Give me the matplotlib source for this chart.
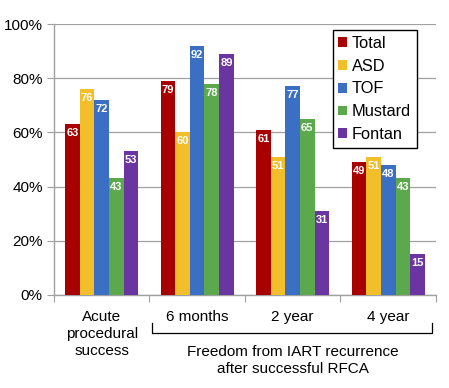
import numpy as np
import matplotlib.pyplot as plt

plt.rcParams['font.family'] = ['Liberation Sans', 'DejaVu Sans']

# ================================
# Data
# ================================
groups = ["Acute\nprocedural\nsuccess", "6 months", "2 year", "4 year"]
series = ["Total", "ASD", "TOF", "Mustard", "Fontan"]
total = [63, 79, 61, 49]
asd = [76, 60, 51, 51]
tof = [72, 92, 77, 48]
mustard = [43, 78, 65, 43]
fontan = [53, 89, 31, 15]
values = [total, asd, tof, mustard, fontan]
colors = ["#A80000", "#F2BE2A", "#3B6FC4", "#5CA94D", "#6A35A0"]

# ================================
# Plot
# ================================
fig = plt.figure(figsize=(4.49, 3.88), dpi=100)
ax = fig.add_axes([0.120, 0.240, 0.851, 0.698])

x = np.arange(len(groups))
w = 0.153
for i, (name, vals, c) in enumerate(zip(series, values, colors)):
    pos = x + (i - 2) * w
    ax.bar(pos, vals, width=w, color=c, label=name, zorder=3)
    for px, v in zip(pos, vals):
        ax.text(px, v - 1.5, str(v), ha="center", va="top", color="white",
                fontsize=8, fontweight="bold", zorder=4)

ax.set_xlim(-0.5, len(groups) - 0.5)
ax.set_ylim(0, 100)
ax.set_yticks(range(0, 101, 20))
ax.set_yticklabels([f"{t}%" for t in range(0, 101, 20)], fontsize=11)
ax.yaxis.grid(True, color="#A0A0A0", linewidth=0.9, zorder=0)
ax.tick_params(axis="y", length=5, color="#A0A0A0", pad=3)

ax.set_xticks(np.arange(-0.5, len(groups)), minor=False)
ax.set_xticklabels([])
ax.tick_params(axis="x", length=5, color="#A0A0A0", direction="out")
for i, g in enumerate(groups):
    ax.text(i, -5.5, g, ha="center", va="top", fontsize=11,
            transform=ax.transData, linespacing=1.3)

for s in ["top", "right"]:
    ax.spines[s].set_visible(False)
for s in ["left", "bottom"]:
    ax.spines[s].set_color("#A0A0A0")
    ax.spines[s].set_linewidth(1.0)

# Bracket under the RFCA groups
by0, by1 = -10.5, -14
ax.plot([0.53, 0.53, 3.46, 3.46], [by0, by1, by1, by0], color="black",
        linewidth=0.9, clip_on=False)
ax.text(2.0, -18.5, "Freedom from IART recurrence\nafter successful RFCA",
        ha="center", va="top", fontsize=11, linespacing=1.3)

leg = ax.legend(loc="upper right", bbox_to_anchor=(0.950, 0.978), fontsize=11.8,
                handlelength=0.55, handleheight=0.55, handletextpad=0.28,
                labelspacing=0.48, borderpad=0.35, borderaxespad=0,
                fancybox=False, framealpha=1)
leg.get_frame().set_edgecolor("black")
leg.get_frame().set_linewidth(1.0)

fig.savefig("out.png", dpi=100)
